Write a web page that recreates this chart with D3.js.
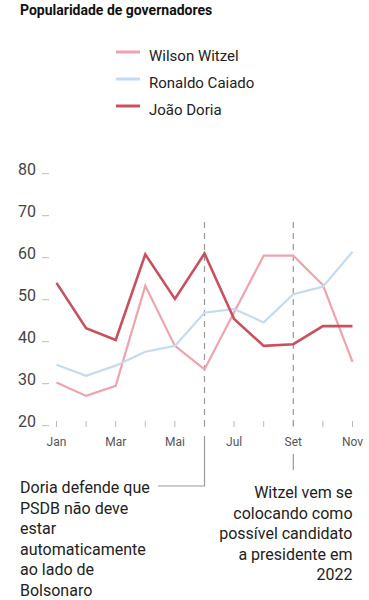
<!DOCTYPE html>
<html><head><meta charset="utf-8">
<script src="https://cdn.jsdelivr.net/npm/d3@7"></script>
<style>
html,body{margin:0;padding:0;background:#fff;}
svg{display:block;font-family:Roboto,"Noto Sans",sans-serif;}
</style></head>
<body><svg id="c" width="369" height="600"></svg>
<script>
const months = ["Jan","Fev","Mar","Abr","Mai","Jun","Jul","Ago","Set","Out","Nov"];
const monthLabels = ["Jan","Mar","Mai","Jul","Set","Nov"];
const yTicks = [20,30,40,50,60,70,80];
const seriesNames = ["Wilson Witzel","Ronaldo Caiado","João Doria"];
const witzel = [30.3,27.1,29.5,53.3,39,33.4,47,60.5,60.5,53.5,35.2];
const caiado = [34.5,31.9,34.3,37.6,39,46.9,47.8,44.6,51.3,53.1,61.4];
const doria  = [54,43.2,40.4,60.8,50.2,61,45.4,39,39.4,43.7,43.7];
const eventMonths = ["Jun","Set"];
const noteLeft = ["Doria defende que","PSDB não deve","estar","automaticamente","ao lado de","Bolsonaro"];
const noteRight = ["Witzel vem se","colocando como","possível candidato","a presidente em","2022"];

const colors = ["#efa3ac","#c5dbef","#c9505f"];
const widths = [2.2,2.2,2.6];
const series = [witzel,caiado,doria];

const svg = d3.select("#c");
const x = d3.scalePoint().domain(months).range([56.5,352.5]);
const y = d3.scaleLinear().domain([20,80]).range([425.7,173.7]);

// title
svg.append("text").attr("x",20).attr("y",15).attr("font-weight","bold")
  .attr("font-size",14).attr("fill","#111").text("Popularidade de governadores");

// legend
seriesNames.forEach((n,i)=>{
  const ly = 52 + i*27;
  svg.append("line").attr("x1",116).attr("x2",140).attr("y1",ly).attr("y2",ly)
    .attr("stroke",colors[i]).attr("stroke-width",3);
  svg.append("text").attr("x",149).attr("y",ly+9).attr("font-size",15)
    .attr("fill","#222").text(n);
});

// y axis ticks
const yg = svg.append("g");
yg.selectAll("line").data(yTicks).join("line")
  .attr("x1",42).attr("x2",49).attr("y1",d=>y(d)).attr("y2",d=>y(d))
  .attr("stroke","#bbb").attr("stroke-width",1);
yg.selectAll("text").data(yTicks).join("text")
  .attr("x",36).attr("y",d=>y(d)+1).attr("text-anchor","end")
  .attr("font-size",16).attr("fill","#444").text(d=>d);

// x ticks
const xg = svg.append("g");
xg.selectAll("line").data(months).join("line")
  .attr("x1",d=>x(d)).attr("x2",d=>x(d)).attr("y1",421).attr("y2",427)
  .attr("stroke","#bbb").attr("stroke-width",1);
xg.selectAll("text").data(monthLabels).join("text")
  .attr("x",d=>x(d)).attr("y",446).attr("text-anchor","middle")
  .attr("font-size",12).attr("fill","#555").text(d=>d);

// event dashed lines
eventMonths.forEach(m=>{
  svg.append("line").attr("x1",x(m)).attr("x2",x(m)).attr("y1",222).attr("y2",428)
    .attr("stroke","#999").attr("stroke-width",1.2).attr("stroke-dasharray","6,5");
});
// annotation connectors
svg.append("path").attr("d",`M${x("Jun")},436V486H158`).attr("fill","none")
  .attr("stroke","#999").attr("stroke-width",1.2);
svg.append("line").attr("x1",x("Set")).attr("x2",x("Set")).attr("y1",454).attr("y2",470)
  .attr("stroke","#999").attr("stroke-width",1.2);

// lines
const line = d3.line().x((d,i)=>x(months[i])).y(d=>y(d));
series.forEach((s,i)=>{
  svg.append("path").datum(s).attr("d",line).attr("fill","none")
    .attr("stroke",colors[i]).attr("stroke-width",widths[i])
    .attr("stroke-linejoin","miter");
});

// notes
noteLeft.forEach((t,i)=>{
  svg.append("text").attr("x",20).attr("y",493+i*20.6).attr("font-size",16)
    .attr("fill","#222").text(t);
});
noteRight.forEach((t,i)=>{
  svg.append("text").attr("x",352.5).attr("y",498+i*20.6).attr("text-anchor","end")
    .attr("font-size",16).attr("fill","#222").text(t);
});
</script></body></html>
